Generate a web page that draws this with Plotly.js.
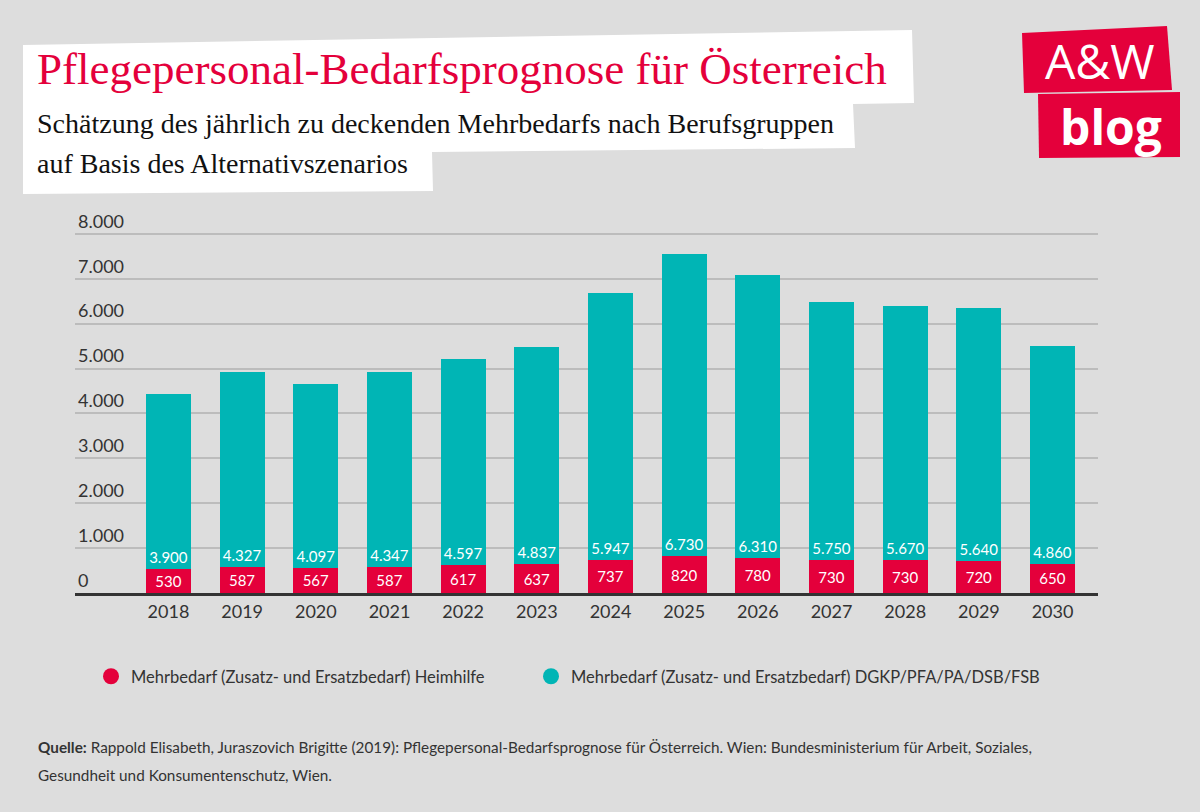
<!DOCTYPE html>
<html>
<head>
<meta charset="utf-8">
<script src="https://cdn.plot.ly/plotly-3.0.1.min.js"></script>
<style>
  html, body { margin: 0; padding: 0; background: #dddddd; }
  #chart { width: 1200px; height: 812px; }
</style>
</head>
<body>
<div id="chart"></div>
<script>
// ---- data ----
const years = ["2018","2019","2020","2021","2022","2023","2024","2025","2026","2027","2028","2029","2030"];
const heimhilfe = [530, 587, 567, 587, 617, 637, 737, 820, 780, 730, 730, 720, 650];
const dgkp = [3900, 4327, 4097, 4347, 4597, 4837, 5947, 6730, 6310, 5750, 5670, 5640, 4860];
const yTicks = [0, 1000, 2000, 3000, 4000, 5000, 6000, 7000, 8000];
const seriesNames = [
  "Mehrbedarf (Zusatz- und Ersatzbedarf) Heimhilfe",
  "Mehrbedarf (Zusatz- und Ersatzbedarf) DGKP/PFA/PA/DSB/FSB"
];
const titleText = "Pflegepersonal-Bedarfsprognose für Österreich";
const subtitleLines = [
  "Schätzung des jährlich zu deckenden Mehrbedarfs nach Berufsgruppen",
  "auf Basis des Alternativszenarios"
];
const sourceLines = [
  "<b>Quelle:</b> Rappold Elisabeth, Juraszovich Brigitte (2019): Pflegepersonal-Bedarfsprognose für Österreich. Wien: Bundesministerium für Arbeit, Soziales,",
  "Gesundheit und Konsumentenschutz, Wien."
];

// ---- geometry helpers (pixel -> paper) ----
const W = 1200, H = 812;
const YMAX = 8800;
const L = 75, R = 102, B = 219;
const T = Math.round(593 - YMAX / 1000 * 44.83);
const PW = W - L - R, PH = H - T - B;
const px = x => (x - L) / PW;
const py = y => (H - B - y) / PH;

const RED = "#e4003b";
const TEAL = "#00b5b5";
const TXT = "#333333";

const traces = [
  {
    type: "bar", x: years, y: heimhilfe, name: seriesNames[0],
    marker: { color: RED }, showlegend: false,
    texttemplate: "%{y:,}", textposition: "inside", insidetextanchor: "middle",
    constraintext: "none", textangle: 0,
    textfont: { family: "Lato", size: 15, color: "#ffffff" },
    hoverinfo: "skip"
  },
  {
    type: "bar", x: years, y: dgkp, name: seriesNames[1],
    marker: { color: TEAL }, showlegend: false,
    texttemplate: "%{y:,}", textposition: "inside", insidetextanchor: "start",
    constraintext: "none", textangle: 0,
    textfont: { family: "Lato", size: 15, color: "#ffffff" },
    hoverinfo: "skip"
  },
  {
    type: "scatter", mode: "markers", x: [null], y: [null], name: seriesNames[0],
    marker: { color: RED, size: 16, symbol: "circle" }, showlegend: true,
    legend: "legend"
  },
  {
    type: "scatter", mode: "markers", x: [null], y: [null], name: seriesNames[1],
    marker: { color: TEAL, size: 16, symbol: "circle" }, showlegend: true,
    legend: "legend2"
  }
];

function poly(pts) {
  return "M" + pts.map(p => px(p[0]) + "," + py(p[1])).join(" L") + " Z";
}

const shapes = [
  // white title box
  { type: "path", xref: "paper", yref: "paper", layer: "below",
    path: poly([[23,45],[912,30],[914,103],[853,104],[855,148],[432,152],[433,191],[23,194]]),
    fillcolor: "#ffffff", line: { width: 0 } },
  // logo boxes
  { type: "path", xref: "paper", yref: "paper", layer: "below",
    path: poly([[1022,33],[1167,26],[1172,90],[1024,93]]),
    fillcolor: RED, line: { width: 0 } },
  { type: "path", xref: "paper", yref: "paper", layer: "below",
    path: poly([[1038,94],[1180,92],[1180,157],[1039,158]]),
    fillcolor: RED, line: { width: 0 } }
];

const annotations = [
  { text: titleText, xref: "paper", yref: "paper", x: px(35), y: py(69),
    xanchor: "left", yanchor: "middle", showarrow: false,
    font: { family: "Liberation Serif", size: 45, color: RED } },
  { text: subtitleLines[0], xref: "paper", yref: "paper", x: px(35), y: py(124),
    xanchor: "left", yanchor: "middle", showarrow: false,
    font: { family: "Liberation Serif", size: 28, color: "#111111" } },
  { text: subtitleLines[1], xref: "paper", yref: "paper", x: px(35), y: py(163),
    xanchor: "left", yanchor: "middle", showarrow: false,
    font: { family: "Liberation Serif", size: 28, color: "#111111" } },
  { text: "A&amp;W", xref: "paper", yref: "paper", x: px(1100), y: py(61),
    xanchor: "center", yanchor: "middle", showarrow: false,
    font: { family: "Open Sans", size: 48, color: "#ffffff" } },
  { text: "<b>blog</b>", xref: "paper", yref: "paper", x: px(1111), y: py(127),
    xanchor: "center", yanchor: "middle", showarrow: false,
    font: { family: "Open Sans", size: 48, color: "#ffffff" } },
  { text: sourceLines[0], xref: "paper", yref: "paper", x: px(36), y: py(747),
    xanchor: "left", yanchor: "middle", showarrow: false,
    font: { family: "Lato", size: 15.3, color: TXT } },
  { text: sourceLines[1], xref: "paper", yref: "paper", x: px(36), y: py(775),
    xanchor: "left", yanchor: "middle", showarrow: false,
    font: { family: "Lato", size: 15.3, color: TXT } }
];

const legendBase = {
  orientation: "h", xanchor: "left", y: py(659), yanchor: "top",
  font: { family: "Lato", size: 16.5, color: TXT },
  bgcolor: "rgba(0,0,0,0)"
};

const layout = {
  width: W, height: H,
  margin: { l: L, r: R, t: T, b: B, pad: 0 },
  paper_bgcolor: "#dddddd", plot_bgcolor: "#dddddd",
  separators: ",.",
  barmode: "stack", bargap: 0.389,
  font: { family: "Lato", color: TXT },
  showlegend: true,
  legend: Object.assign({}, legendBase, { x: px(91) }),
  legend2: Object.assign({}, legendBase, { x: px(531) }),
  xaxis: {
    type: "category", range: [-1.269, 12.617],
    showgrid: false, zeroline: false, ticks: "",
    showline: true, linecolor: "#333333", linewidth: 3,
    tickfont: { family: "Lato", size: 18, color: TXT },
    fixedrange: true
  },
  yaxis: {
    range: [0, YMAX], tickvals: yTicks,
    tickformat: ",",
    showgrid: true, gridcolor: "#bcbcbc", gridwidth: 2,
    zeroline: false, showline: false, ticks: "",
    ticklabelposition: "inside top",
    tickfont: { family: "Lato", size: 18, color: TXT },
    fixedrange: true
  },
  shapes: shapes,
  annotations: annotations
};

Plotly.newPlot("chart", traces, layout, { displayModeBar: false, staticPlot: true });
</script>
</body>
</html>
